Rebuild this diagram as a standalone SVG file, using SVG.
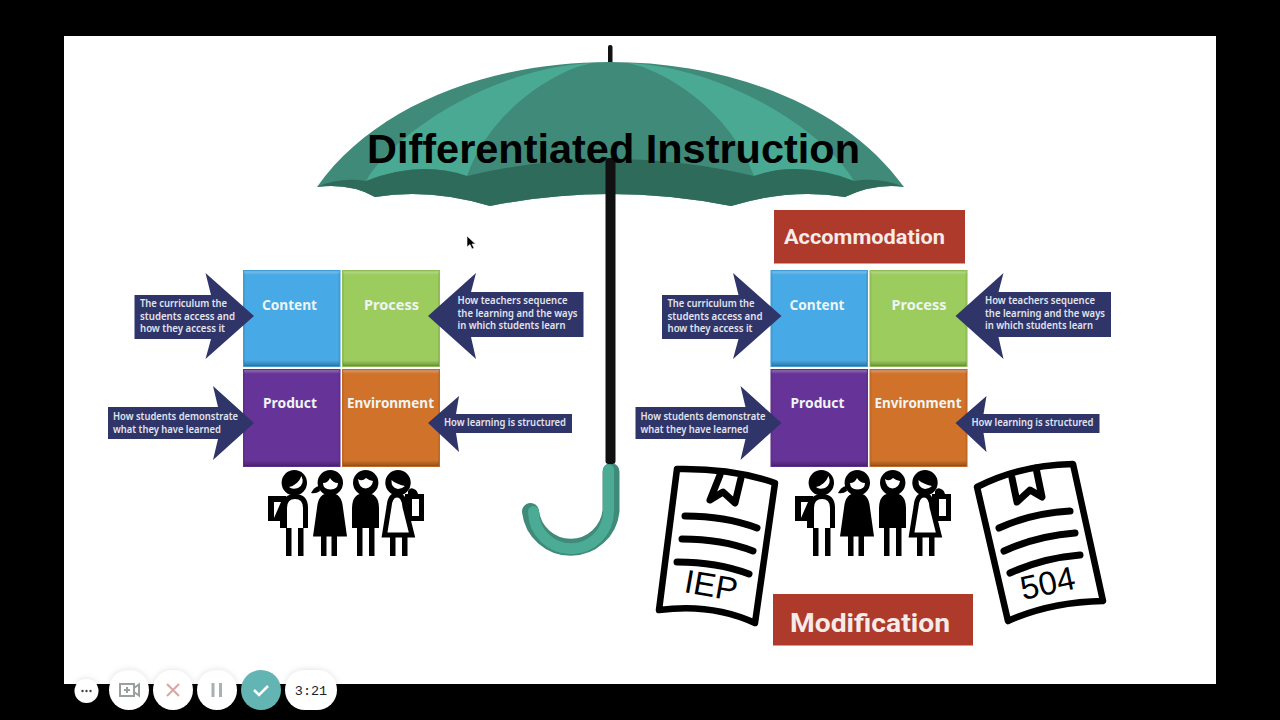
<svg xmlns="http://www.w3.org/2000/svg" width="1280" height="720" viewBox="0 0 1280 720">
<style>
.sq{font-family:"Noto Sans","Open Sans",sans-serif;font-weight:700;font-size:14.5px;fill:#eef5f4}
.ar{font-family:"Noto Sans","Open Sans",sans-serif;font-weight:600;font-size:10.5px;fill:#e2e4ee}
.navy{fill:#2f3568}
.red{fill:#ad3a2b}
.lab{font-family:Roboto,"Liberation Sans",sans-serif;font-weight:700;fill:#f6ebe8}
.bev{fill:url(#bev);stroke:#000;stroke-opacity:.07;stroke-width:2}
.k{fill:#000}
.w{fill:#fff}
.ko{fill:#fff;stroke:#000;stroke-width:5}
.doc{fill:#fff;stroke:#000;stroke-width:6.500;stroke-linejoin:round;stroke-linecap:round}
.dl{fill:none;stroke:#000;stroke-width:7;stroke-linecap:round;stroke-linejoin:round}
.dt{font-family:"Liberation Sans",Arial,sans-serif;font-size:33px;fill:#000}
.btn{fill:#fff;filter:url(#sh)}
.ic{fill:none;stroke-width:2;stroke:#9aa0a0}
</style>
<defs>
<linearGradient id="bev" x1="0" y1="0" x2="0" y2="1">
<stop offset="0" stop-color="#fff" stop-opacity=".3"/><stop offset=".04" stop-color="#fff" stop-opacity="0"/>
<stop offset=".94" stop-color="#000" stop-opacity="0"/><stop offset="1" stop-color="#000" stop-opacity=".28"/>
</linearGradient>
<filter id="sh" x="-30%" y="-30%" width="160%" height="160%"><feDropShadow dx="0" dy="0" stdDeviation="3" flood-color="#000" flood-opacity=".14"/></filter>
</defs>
<rect width="1280" height="720" fill="#000"/>
<rect x="64" y="36" width="1152" height="648" fill="#fff"/>

<g id="umbrella">
<rect x="608" y="45" width="4.500" height="20" rx="2" fill="#111"/>
<path d="M317,187 C375,105 490,62 610,62 C730,62 845,105 904,187 Q875,183 845,197 Q790,188 731,206 Q610,182 490,206 Q430,188 375,197 Q350,183 317,187Z" fill="#3f8a78"/>
<path d="M366,181 C392,135 490,68 592,63 L577,67 C530,85 485,125 467,176 Q420,160 366,181Z" fill="#4aa993"/>
<path d="M854,181 C828,135 730,68 628,63 L643,67 C690,85 735,125 754,176 Q800,160 854,181Z" fill="#4aa993"/>
<path d="M317,187 Q340,177 366,181 Q420,160 467,176 Q610,142 754,176 Q800,160 854,181 Q880,177 904,187 Q875,183 845,197 Q790,188 731,206 Q610,182 490,206 Q430,188 375,197 Q350,183 317,187Z" fill="#2f6b5a"/>
<path d="M611,471.500 V511 A40.500,40.500 0 0 1 530.500,511.500" fill="none" stroke="#3f8a78" stroke-width="17" stroke-linecap="round"/>
<path d="M608.500,470 V511 A37.500,37.500 0 0 1 533.500,511.500" fill="none" stroke="#4cab95" stroke-width="11" stroke-linecap="round"/>
<rect x="605.500" y="158" width="10" height="306" rx="3" fill="#111"/>
</g>
<text id="title" x="367" y="163" font-family="'Liberation Sans',Arial,sans-serif" font-weight="700" font-size="40" fill="#000" textLength="493" lengthAdjust="spacingAndGlyphs">Differentiated Instruction</text>

<g id="cursor"><path d="M467,236 V247 L470,244.500 L472,249 L474,248 L472,244 H475.500Z" fill="#000" stroke="#fff" stroke-width=".6"/></g>

<g id="model-left">
<g id="content-left"><rect x="243" y="270" width="97.500" height="97" fill="#47a9e5"/><rect class="bev" x="244" y="271" width="95.500" height="95"/><text class="sq" x="262" y="310" textLength="55" lengthAdjust="spacingAndGlyphs">Content</text></g>
<g id="process-left"><rect x="342" y="270" width="98" height="97" fill="#9ccc5e"/><rect class="bev" x="343" y="271" width="96" height="95"/><text class="sq" x="364" y="310" textLength="55" lengthAdjust="spacingAndGlyphs">Process</text></g>
<g id="product-left"><rect x="243" y="369" width="97.500" height="98" fill="#663398"/><rect class="bev" x="244" y="370" width="95.500" height="96"/><text class="sq" x="263" y="408" textLength="54" lengthAdjust="spacingAndGlyphs">Product</text></g>
<g id="environment-left"><rect x="342" y="369" width="98" height="98" fill="#d0722a"/><rect class="bev" x="343" y="370" width="96" height="96"/><text class="sq" x="347" y="408" textLength="87" lengthAdjust="spacingAndGlyphs">Environment</text></g>
<g id="content-note-left"><path class="navy" d="M134.500,295 H211 L205.500,273 L254,316 L205.500,359 L211,339 H134.500Z"/><text class="ar" x="140" y="307" textLength="87" lengthAdjust="spacingAndGlyphs">The curriculum the</text><text class="ar" x="140" y="319.500" textLength="95" lengthAdjust="spacingAndGlyphs">students access and</text><text class="ar" x="140" y="332" textLength="85" lengthAdjust="spacingAndGlyphs">how they access it</text></g>
<g id="process-note-left"><path class="navy" d="M428,316 L476,273 L471,292 H583.500 V337 H471 L476,359Z"/><text class="ar" x="457.500" y="304" textLength="110" lengthAdjust="spacingAndGlyphs">How teachers sequence</text><text class="ar" x="457.500" y="317" textLength="120" lengthAdjust="spacingAndGlyphs">the learning and the ways</text><text class="ar" x="457.500" y="329" textLength="108" lengthAdjust="spacingAndGlyphs">in which students learn</text></g>
<g id="product-note-left"><path class="navy" d="M108,407 H218 L213,386 L254,423 L213,460 L218,439 H108Z"/><text class="ar" x="113" y="420" textLength="125" lengthAdjust="spacingAndGlyphs">How students demonstrate</text><text class="ar" x="113" y="432.500" textLength="108" lengthAdjust="spacingAndGlyphs">what they have learned</text></g>
<g id="environment-note-left"><path class="navy" d="M428,423 L459,396 L456,414 H572 V433 H456 L459,452Z"/><text class="ar" x="444" y="426" textLength="122" lengthAdjust="spacingAndGlyphs">How learning is structured</text></g>
</g>

<g id="students-left">
<circle class="k" cx="294.300" cy="482.700" r="12.700"/><path class="w" d="M289,487 Q298,485 301.500,476 Q305,484 298,488 Q292,490 289,487Z"/>
<path class="ko" d="M284.500,528 V508 Q284.500,496.500 295,496.500 Q305.500,496.500 305.500,508 V528"/>
<rect class="k" x="268" y="496" width="18" height="25"/><path class="w" d="M274,502 H281 L274,518Z"/>
<rect class="k" x="280" y="521" width="7" height="7"/>
<rect class="k" x="286" y="528" width="5.500" height="28"/><rect class="k" x="298" y="528" width="5.500" height="28"/>

<circle class="k" cx="330.300" cy="482.700" r="12.700"/><path class="w" d="M323,483 Q328,483 330,478 Q333,483 338,483 Q338,489 330.500,489.500 Q323,489 323,483Z"/>
<path class="k" d="M311,493 Q314,487 319,486 L320,491 Q316,494 311,493Z"/>
<path class="k" d="M330,493 Q342,493 343,508 L347,536.500 H313 L317,508 Q318,493 330,493Z"/>
<rect class="k" x="321" y="536" width="5.500" height="20"/><rect class="k" x="331.500" y="536" width="5.500" height="20"/>

<circle class="k" cx="365.700" cy="482.700" r="12.700"/><path class="w" d="M358,479 Q362,482 366,478 Q370,481 373,481 Q372,488 365.500,488.500 Q359,488 358,479Z"/>
<path class="k" d="M352,528 V508 Q352,493 365.500,493 Q379,493 379,508 V528Z"/>
<rect class="k" x="357" y="527" width="5.500" height="29"/><rect class="k" x="369" y="527" width="5.500" height="29"/>

<circle class="k" cx="398" cy="482.700" r="12.700"/><path class="w" d="M391.500,480 Q396,484 405,486 Q402,489 398,489 Q391,488 391.500,480Z"/>
<path class="k" d="M408,491 Q410,487 414,489 Q417,490 418,494 H408Z"/>
<rect class="k" x="405" y="494" width="19" height="27"/><rect class="w" x="412" y="499" width="7" height="17"/>
<path class="ko" stroke-width="4" d="M397,495 Q390,495 389,507 L384.500,535 H412 L405,507 Q404,495 397,495Z"/>
<rect class="k" x="390" y="536" width="5.500" height="20"/><rect class="k" x="402" y="536" width="5.500" height="20"/>
</g>

<g id="accommodation"><rect class="red" x="774" y="210" width="191" height="53.500"/><text class="lab" x="784" y="244" font-size="20" textLength="161" lengthAdjust="spacingAndGlyphs">Accommodation</text></g>

<g id="model-right" transform="translate(527.500 0)">
<g id="content-right"><rect x="243" y="270" width="97.500" height="97" fill="#47a9e5"/><rect class="bev" x="244" y="271" width="95.500" height="95"/><text class="sq" x="262" y="310" textLength="55" lengthAdjust="spacingAndGlyphs">Content</text></g>
<g id="process-right"><rect x="342" y="270" width="98" height="97" fill="#9ccc5e"/><rect class="bev" x="343" y="271" width="96" height="95"/><text class="sq" x="364" y="310" textLength="55" lengthAdjust="spacingAndGlyphs">Process</text></g>
<g id="product-right"><rect x="243" y="369" width="97.500" height="98" fill="#663398"/><rect class="bev" x="244" y="370" width="95.500" height="96"/><text class="sq" x="263" y="408" textLength="54" lengthAdjust="spacingAndGlyphs">Product</text></g>
<g id="environment-right"><rect x="342" y="369" width="98" height="98" fill="#d0722a"/><rect class="bev" x="343" y="370" width="96" height="96"/><text class="sq" x="347" y="408" textLength="87" lengthAdjust="spacingAndGlyphs">Environment</text></g>
<g id="content-note-right"><path class="navy" d="M134.500,295 H211 L205.500,273 L254,316 L205.500,359 L211,339 H134.500Z"/><text class="ar" x="140" y="307" textLength="87" lengthAdjust="spacingAndGlyphs">The curriculum the</text><text class="ar" x="140" y="319.500" textLength="95" lengthAdjust="spacingAndGlyphs">students access and</text><text class="ar" x="140" y="332" textLength="85" lengthAdjust="spacingAndGlyphs">how they access it</text></g>
<g id="process-note-right"><path class="navy" d="M428,316 L476,273 L471,292 H583.500 V337 H471 L476,359Z"/><text class="ar" x="457.500" y="304" textLength="110" lengthAdjust="spacingAndGlyphs">How teachers sequence</text><text class="ar" x="457.500" y="317" textLength="120" lengthAdjust="spacingAndGlyphs">the learning and the ways</text><text class="ar" x="457.500" y="329" textLength="108" lengthAdjust="spacingAndGlyphs">in which students learn</text></g>
<g id="product-note-right"><path class="navy" d="M108,407 H218 L213,386 L254,423 L213,460 L218,439 H108Z"/><text class="ar" x="113" y="420" textLength="125" lengthAdjust="spacingAndGlyphs">How students demonstrate</text><text class="ar" x="113" y="432.500" textLength="108" lengthAdjust="spacingAndGlyphs">what they have learned</text></g>
<g id="environment-note-right"><path class="navy" d="M428,423 L459,396 L456,414 H572 V433 H456 L459,452Z"/><text class="ar" x="444" y="426" textLength="122" lengthAdjust="spacingAndGlyphs">How learning is structured</text></g>
</g>

<g id="students-right" transform="translate(527 0)">
<circle class="k" cx="294.300" cy="482.700" r="12.700"/><path class="w" d="M289,487 Q298,485 301.500,476 Q305,484 298,488 Q292,490 289,487Z"/>
<path class="ko" d="M284.500,528 V508 Q284.500,496.500 295,496.500 Q305.500,496.500 305.500,508 V528"/>
<rect class="k" x="268" y="496" width="18" height="25"/><path class="w" d="M274,502 H281 L274,518Z"/>
<rect class="k" x="280" y="521" width="7" height="7"/>
<rect class="k" x="286" y="528" width="5.500" height="28"/><rect class="k" x="298" y="528" width="5.500" height="28"/>

<circle class="k" cx="330.300" cy="482.700" r="12.700"/><path class="w" d="M323,483 Q328,483 330,478 Q333,483 338,483 Q338,489 330.500,489.500 Q323,489 323,483Z"/>
<path class="k" d="M311,493 Q314,487 319,486 L320,491 Q316,494 311,493Z"/>
<path class="k" d="M330,493 Q342,493 343,508 L347,536.500 H313 L317,508 Q318,493 330,493Z"/>
<rect class="k" x="321" y="536" width="5.500" height="20"/><rect class="k" x="331.500" y="536" width="5.500" height="20"/>

<circle class="k" cx="365.700" cy="482.700" r="12.700"/><path class="w" d="M358,479 Q362,482 366,478 Q370,481 373,481 Q372,488 365.500,488.500 Q359,488 358,479Z"/>
<path class="k" d="M352,528 V508 Q352,493 365.500,493 Q379,493 379,508 V528Z"/>
<rect class="k" x="357" y="527" width="5.500" height="29"/><rect class="k" x="369" y="527" width="5.500" height="29"/>

<circle class="k" cx="398" cy="482.700" r="12.700"/><path class="w" d="M391.500,480 Q396,484 405,486 Q402,489 398,489 Q391,488 391.500,480Z"/>
<path class="k" d="M408,491 Q410,487 414,489 Q417,490 418,494 H408Z"/>
<rect class="k" x="405" y="494" width="19" height="27"/><rect class="w" x="412" y="499" width="7" height="17"/>
<path class="ko" stroke-width="4" d="M397,495 Q390,495 389,507 L384.500,535 H412 L405,507 Q404,495 397,495Z"/>
<rect class="k" x="390" y="536" width="5.500" height="20"/><rect class="k" x="402" y="536" width="5.500" height="20"/>
</g>

<g id="iep">
<path class="doc" d="M677,469 Q733,468 775,483 L755,623 Q712,603 659,610Z"/>
<path class="dl" d="M720,475 L710,500 L723,492 L735,503 L741,478"/>
<path class="dl" d="M685,516 Q725,516 757,528"/>
<path class="dl" d="M682,539 Q722,539 753,551"/>
<path class="dl" d="M677,562 Q717,562 749,574"/>
<text class="dt" transform="translate(683 592) rotate(10)">IEP</text>
</g>
<g id="doc-504">
<path class="doc" d="M977,487 Q1020,465 1073,464 L1103,601 Q1050,602 1008,621Z"/>
<path class="dl" d="M1012,478 L1017,502 L1030,490 L1042,497 L1036,468"/>
<path class="dl" d="M999,528 Q1032,513 1070,511"/>
<path class="dl" d="M1004,551 Q1037,536 1075,533"/>
<path class="dl" d="M1010,573 Q1043,558 1080,555"/>
<text class="dt" transform="translate(1023 600) rotate(-12)">504</text>
</g>
<g id="modification"><rect class="red" x="773" y="594" width="200" height="51.500"/><text class="lab" x="790" y="632" font-size="25" textLength="160" lengthAdjust="spacingAndGlyphs">Modification</text></g>

<g id="toolbar">
<g id="btn-more"><circle class="btn" cx="86.500" cy="691" r="12"/><circle cx="82.500" cy="691" r="1.200" fill="#444"/><circle cx="86.500" cy="691" r="1.200" fill="#444"/><circle cx="90.500" cy="691" r="1.200" fill="#444"/></g>
<g id="btn-camera"><circle class="btn" cx="129" cy="690" r="20"/><rect class="ic" x="120" y="684" width="14" height="12"/><path class="ic" d="M134,688 L139,684.500 V695.500 L134,692"/><path class="ic" stroke-width="1.500" d="M124,690 H130 M127,687 V693"/></g>
<g id="btn-cancel"><circle class="btn" cx="173" cy="690" r="20"/><path d="M167,684 L179,696 M179,684 L167,696" fill="none" stroke="#dba8a8" stroke-width="2.200"/></g>
<g id="btn-pause"><circle class="btn" cx="217" cy="690" r="20"/><path d="M213,683 V697 M220.500,683 V697" fill="none" stroke="#a8b0b2" stroke-width="3"/></g>
<g id="btn-done"><circle cx="261" cy="690" r="20" fill="#62b5b3"/><path d="M254,690 L259,695 L268,686" fill="none" stroke="#fff" stroke-width="2.500"/></g>
<g id="timer"><rect class="btn" x="285" y="670" width="52" height="40" rx="20"/><text x="311" y="695" text-anchor="middle" font-family="'Liberation Mono','DejaVu Sans Mono',monospace" font-size="13.500" fill="#222">3:21</text></g>
</g>
</svg>
